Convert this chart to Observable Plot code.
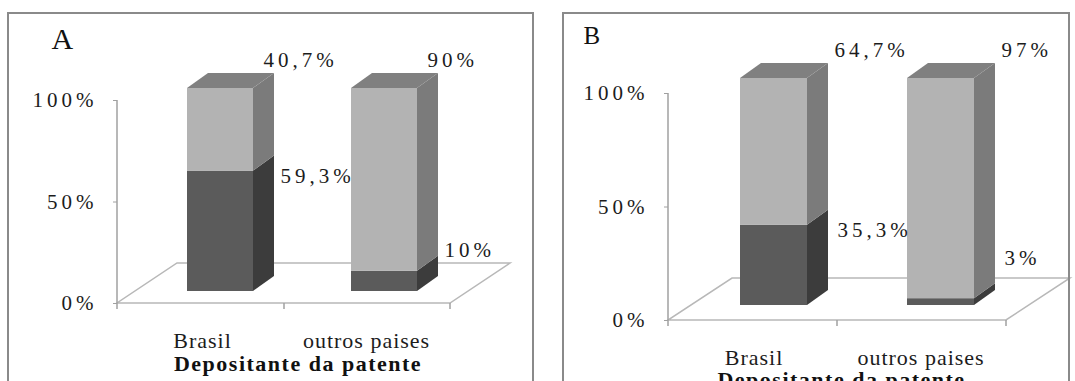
<!DOCTYPE html>
<html>
<head>
<meta charset="utf-8">
<script src="https://cdn.jsdelivr.net/npm/d3@7"></script>
<script src="https://cdn.jsdelivr.net/npm/@observablehq/plot@0.6"></script>
<style>
  html, body { margin: 0; padding: 0; background: #fff; }
  #wrap { position: relative; width: 1075px; height: 381px; overflow: hidden; }
  .chart { position: absolute; top: 0; }
  .moldura { position: absolute; border: 2px solid #8a8a8a; box-sizing: border-box; background: none; }
</style>
</head>
<body>
<div id="wrap">
  <div id="chartA" class="chart" style="left:0;width:540px"></div>
  <div id="chartB" class="chart" style="left:540px;width:535px"></div>
  <div class="moldura" style="left:7px;top:12px;width:527px;height:420px"></div>
  <div class="moldura" style="left:562px;top:12px;width:508px;height:420px"></div>
</div>
<script>
// Categorias e séries
const categorias = ["Brasil", "outros paises"];
const grupos = ["grupo 1", "grupo 2"];

// Painel A (%)
const grupo1A = [59.3, 10];
const grupo2A = [40.7, 90];

// Painel B (%)
const grupo1B = [35.3, 3];
const grupo2B = [64.7, 97];

const ticksY = [0, 50, 100];
const tituloX = "Depositante da patente";

const corFrente = ["#5b5b5b", "#b3b3b3"];
const corLado = ["#3c3c3c", "#7b7b7b"];
const corTopo = "#808080";
const corTexto = "#1c1c1c";
const serif = "'Liberation Serif', 'Times New Roman', serif";

const fmt = v => String(v).replace(".", ",") + "%";

function larguraBanda(s) {
  return typeof s.bandwidth === "function" ? s.bandwidth() : s.bandwidth;
}

function painel(cfg) {
  const linhas = categorias.flatMap((c, i) => [
    {pais: c, grupo: grupos[0], y1: 0, y2: cfg.g1[i], valor: cfg.g1[i], topo: false},
    {pais: c, grupo: grupos[1], y1: cfg.g1[i], y2: cfg.g1[i] + cfg.g2[i], valor: cfg.g2[i], topo: true}
  ]);
  const [ox, oy] = cfg.barra;   // deslocamento das barras para dentro do piso
  const [px, py] = cfg.prof;    // profundidade das barras
  const [fx, fy] = cfg.fundo;   // profundidade do piso

  // mesma banda que o Plot calcula para x (para posicionar os rótulos à direita)
  const bw = d3.scaleBand().domain(categorias)
    .range([cfg.ml, cfg.largura - cfg.mr])
    .paddingInner(0.6).paddingOuter(0.31).bandwidth();

  // piso em perspectiva, linha do eixo y e marcas entre categorias
  const piso = (index, {x, y}) => {
    const [x0, x1] = x.range();
    const y0 = y(0);
    const g = d3.create("svg:g").attr("fill", "none");
    g.append("path")
      .attr("d", `M${x0},${y0}L${x1},${y0}L${x1 + fx},${y0 + fy}L${x0 + fx},${y0 + fy}Z`)
      .attr("stroke", "#b8b8b8").attr("stroke-width", 1.5);
    g.append("line")
      .attr("x1", x0).attr("x2", x0).attr("y1", y0).attr("y2", y(d3.max(ticksY)))
      .attr("stroke", "#a0a0a0").attr("stroke-width", 1.5);
    const b = larguraBanda(x);
    const meio = (x(categorias[0]) + x(categorias[1]) + b) / 2;
    for (const xt of [x0, meio, x1]) {
      g.append("line").attr("x1", xt).attr("x2", xt).attr("y1", y0).attr("y2", y0 + 6)
        .attr("stroke", "#a0a0a0").attr("stroke-width", 1.5);
    }
    return g.node();
  };

  // faces laterais e de topo das colunas
  const faces = (index, {x, y}) => {
    const b = larguraBanda(x);
    const g = d3.create("svg:g");
    for (const d of linhas) {
      const xl = x(d.pais) + ox, xr = xl + b;
      const ya = y(d.y1) + oy, yb = y(d.y2) + oy;
      g.append("path")
        .attr("d", `M${xr},${ya}L${xr},${yb}L${xr + px},${yb + py}L${xr + px},${ya + py}Z`)
        .attr("fill", corLado[grupos.indexOf(d.grupo)]);
      if (d.topo) {
        g.append("path")
          .attr("d", `M${xl},${yb}L${xr},${yb}L${xr + px},${yb + py}L${xl + px},${yb + py}Z`)
          .attr("fill", corTopo);
      }
    }
    return g.node();
  };

  const rotulos = linhas.map(d => ({...d, yl: d.topo ? d.y2 : Math.max(d.y2, 23)}));

  const svg = Plot.plot({
    width: cfg.largura,
    height: 381,
    marginLeft: cfg.ml,
    marginRight: cfg.mr,
    marginTop: cfg.mt,
    marginBottom: cfg.mb,
    x: {domain: categorias, paddingInner: 0.6, paddingOuter: 0.31, label: null},
    y: {domain: [0, 100], label: null},
    color: {domain: grupos, range: corFrente},
    style: {fontFamily: serif, background: "transparent", overflow: "visible", color: corTexto},
    marks: [
      piso,
      Plot.axisY(ticksY, {
        tickSize: 4, tickPadding: 16, tickFormat: d => d + "%",
        fontSize: 21, stroke: "#a0a0a0", fill: corTexto, label: null
      }),
      Plot.axisX({tickSize: 0, tickPadding: 28.5, fontSize: 22, fill: corTexto, label: null}),
      Plot.barY(linhas, {x: "pais", y1: "y1", y2: "y2", fill: "grupo", dx: ox, dy: oy}),
      faces,
      Plot.text(rotulos.filter(d => d.topo), {
        x: "pais", y: "yl", text: d => fmt(d.valor),
        textAnchor: "start", lineAnchor: "middle",
        dx: bw / 2 + ox + cfg.dxTopo, dy: oy - 28,
        fontSize: 21, fill: corTexto
      }),
      Plot.text(rotulos.filter(d => !d.topo), {
        x: "pais", y: "yl", text: d => fmt(d.valor),
        textAnchor: "start", lineAnchor: "middle",
        dx: bw / 2 + ox + cfg.dxBase, dy: oy + 5,
        fontSize: 21, fill: corTexto
      }),
      Plot.text([cfg.letra], {
        frameAnchor: "top-left", textAnchor: "start", lineAnchor: "middle",
        dx: cfg.letraPos[0], dy: cfg.letraPos[1],
        fontSize: cfg.letraTam, fill: "#111"
      }),
      Plot.text([tituloX], {
        frameAnchor: "bottom", textAnchor: "middle", lineAnchor: "middle",
        dx: cfg.tituloPos[0], dy: cfg.tituloPos[1],
        fontSize: 22, fontWeight: "bold", fill: "#111"
      })
    ]
  });

  d3.select(svg).selectAll("text").each(function () {
    const t = this.textContent;
    if (/%$/.test(t)) this.style.letterSpacing = "4px";
    else if (categorias.includes(t)) this.style.letterSpacing = "1px";
    else if (t === tituloX) this.style.letterSpacing = "1.5px";
  });
  return svg;
}

document.getElementById("chartA").append(painel({
  g1: grupo1A, g2: grupo2A, letra: "A",
  largura: 540, ml: 117, mr: 90, mt: 100, mb: 78,
  barra: [18, -12], prof: [21, -15], fundo: [60, -40],
  dxTopo: 10, dxBase: 27,
  letraPos: [-66, -61.5], letraTam: 30,
  tituloPos: [14, 60.5]
}));

document.getElementById("chartB").append(painel({
  g1: grupo1B, g2: grupo2B, letra: "B",
  largura: 535, ml: 128, mr: 69, mt: 93, mb: 61,
  barra: [20, -15], prof: [21, -15], fundo: [64, -42],
  dxTopo: 27, dxBase: 30,
  letraPos: [-85, -57.5], letraTam: 25,
  tituloPos: [4, 59.5]
}));
</script>
</body>
</html>
